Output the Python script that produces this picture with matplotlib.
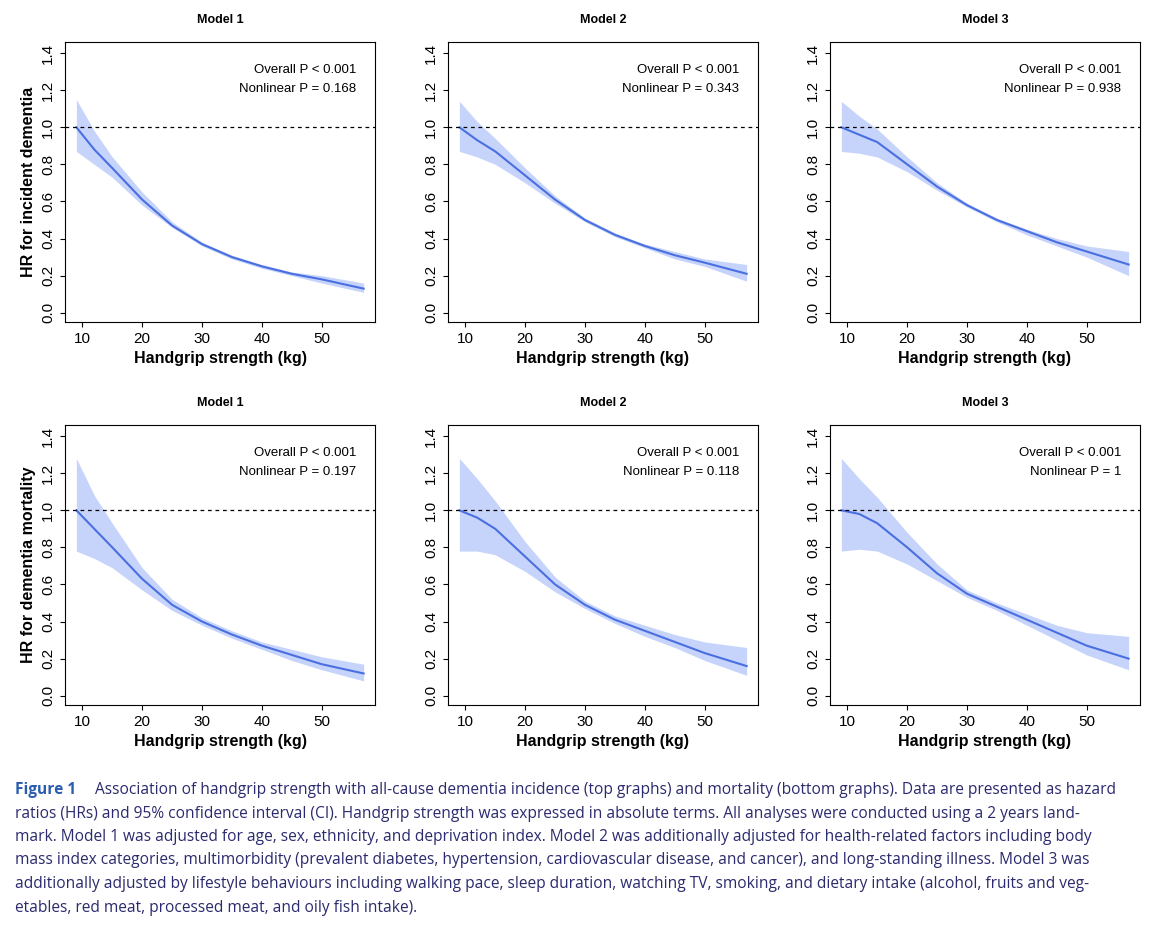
import matplotlib
matplotlib.use("Agg")
import matplotlib.pyplot as plt

plt.rcParams['font.family'] = ['Liberation Sans', 'DejaVu Sans']

x = [9, 12, 15, 20, 25, 30, 35, 40, 45, 50, 57]
titles = ["Model 1", "Model 2", "Model 3"]
ylabels = ["HR for incident dementia", "HR for dementia mortality"]
p_texts = [["0.168", "0.343", "0.938"], ["0.197", "0.118", "1"]]

hr = [
    [[1.0, 0.88, 0.78, 0.61, 0.47, 0.37, 0.30, 0.25, 0.21, 0.18, 0.13],
     [1.0, 0.93, 0.87, 0.74, 0.61, 0.50, 0.42, 0.36, 0.31, 0.27, 0.21],
     [1.0, 0.96, 0.92, 0.80, 0.68, 0.58, 0.50, 0.44, 0.38, 0.33, 0.26]],
    [[1.0, 0.90, 0.80, 0.63, 0.49, 0.40, 0.33, 0.27, 0.22, 0.17, 0.12],
     [1.0, 0.96, 0.90, 0.75, 0.60, 0.49, 0.41, 0.35, 0.29, 0.23, 0.16],
     [1.0, 0.98, 0.93, 0.80, 0.66, 0.55, 0.48, 0.41, 0.34, 0.27, 0.20]],
]
lo = [
    [[0.87, 0.80, 0.73, 0.58, 0.46, 0.36, 0.29, 0.24, 0.20, 0.16, 0.11],
     [0.87, 0.84, 0.80, 0.70, 0.59, 0.49, 0.41, 0.35, 0.29, 0.25, 0.17],
     [0.87, 0.86, 0.84, 0.76, 0.66, 0.57, 0.49, 0.42, 0.36, 0.30, 0.20]],
    [[0.78, 0.74, 0.69, 0.57, 0.46, 0.38, 0.31, 0.25, 0.19, 0.14, 0.08],
     [0.78, 0.78, 0.76, 0.67, 0.56, 0.47, 0.39, 0.32, 0.26, 0.19, 0.11],
     [0.78, 0.79, 0.78, 0.71, 0.62, 0.53, 0.46, 0.38, 0.30, 0.22, 0.14]],
]
hi = [
    [[1.15, 0.98, 0.84, 0.65, 0.49, 0.38, 0.31, 0.26, 0.22, 0.20, 0.16],
     [1.14, 1.03, 0.94, 0.78, 0.63, 0.51, 0.43, 0.37, 0.33, 0.29, 0.26],
     [1.14, 1.06, 0.99, 0.84, 0.70, 0.59, 0.51, 0.45, 0.40, 0.36, 0.33]],
    [[1.28, 1.08, 0.93, 0.69, 0.52, 0.42, 0.35, 0.29, 0.25, 0.21, 0.17],
     [1.28, 1.17, 1.05, 0.83, 0.64, 0.51, 0.43, 0.38, 0.33, 0.29, 0.26],
     [1.28, 1.17, 1.07, 0.88, 0.71, 0.57, 0.50, 0.44, 0.38, 0.34, 0.32]],
]

W, H = 1160, 925
fig = plt.figure(figsize=(W / 100, H / 100), dpi=100)
lefts = [65, 448, 830]
tops = [42, 425]
aw, ah = 310, 280
for r in range(2):
    for c in range(3):
        ax = fig.add_axes([lefts[c] / W, 1 - (tops[r] + ah) / H, aw / W, ah / H])
        ax.fill_between(x, lo[r][c], hi[r][c], color="#c6d4fb", lw=0)
        ax.plot(x, hr[r][c], color="#4a6fe0", lw=1.5)
        ax.axhline(1.0, color="black", ls=(0, (3, 3)), lw=0.9)
        ax.set_xlim(7.1, 58.9)
        ax.set_ylim(-0.05, 1.46)
        ax.set_xticks([10, 20, 30, 40, 50])
        ax.set_yticks([0.0, 0.2, 0.4, 0.6, 0.8, 1.0, 1.2, 1.4])
        ax.set_yticklabels([f"{v:.1f}" for v in ax.get_yticks()], rotation=90, va="center")
        ax.tick_params(labelsize=11)
        ax.set_title(titles[c], fontsize=9, fontweight="bold", pad=14)
        ax.set_xlabel("Handgrip strength (kg)", fontsize=11.5, fontweight="bold")
        if c == 0:
            ax.set_ylabel(ylabels[r], fontsize=11.5, fontweight="bold")
        ax.text(0.94, 0.89, "Overall P < 0.001", transform=ax.transAxes, ha="right", fontsize=9.5)
        ax.text(0.94, 0.82, f"Nonlinear P = {p_texts[r][c]}", transform=ax.transAxes, ha="right", fontsize=9.5)

cap = [
    "Association of handgrip strength with all-cause dementia incidence (top graphs) and mortality (bottom graphs). Data are presented as hazard",
    "ratios (HRs) and 95% confidence interval (CI). Handgrip strength was expressed in absolute terms. All analyses were conducted using a 2 years land-",
    "mark. Model 1 was adjusted for age, sex, ethnicity, and deprivation index. Model 2 was additionally adjusted for health-related factors including body",
    "mass index categories, multimorbidity (prevalent diabetes, hypertension, cardiovascular disease, and cancer), and long-standing illness. Model 3 was",
    "additionally adjusted by lifestyle behaviours including walking pace, sleep duration, watching TV, smoking, and dietary intake (alcohol, fruits and veg-",
    "etables, red meat, processed meat, and oily fish intake).",
]
cf = ['Open Sans', 'DejaVu Sans']
fig.text(15 / W, 1 - 790 / H, "Figure 1", color="#2a5db0", fontweight="bold", fontsize=11.2, va="center", family=cf)
for i, line in enumerate(cap):
    xx = 95 if i == 0 else 15
    fig.text(xx / W, 1 - (790 + i * 23.5) / H, line, color="#2b2a6e", fontsize=11.2, va="center", family=cf)
fig.savefig("out.png", dpi=100)
